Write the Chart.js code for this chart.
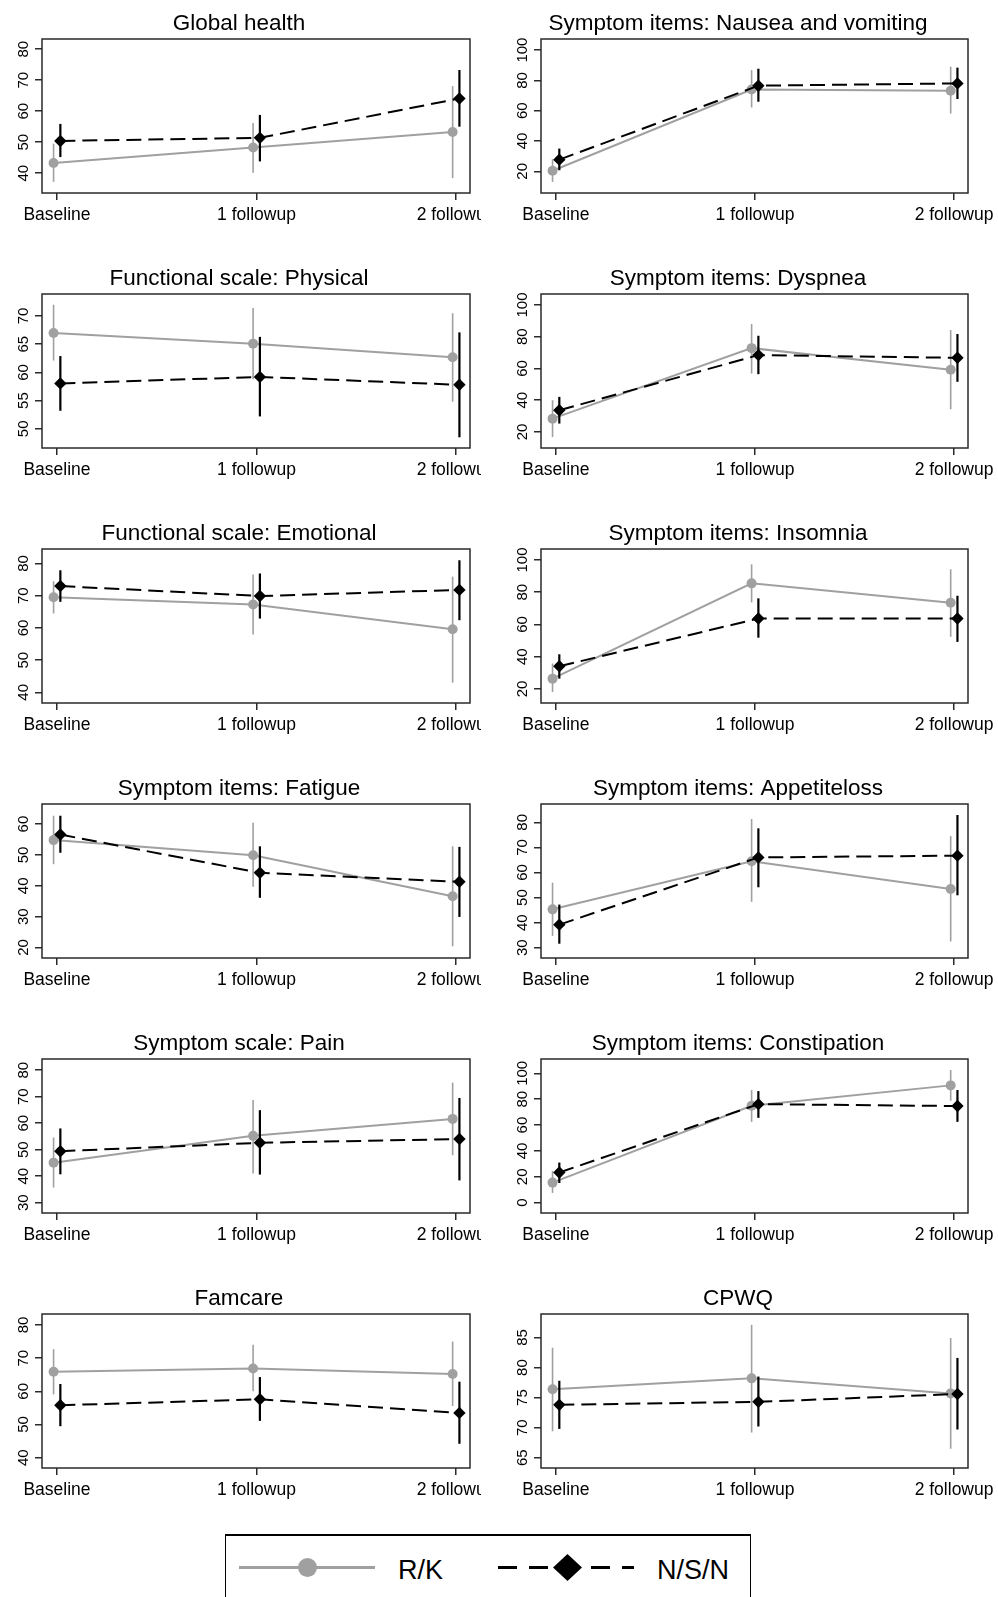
<!DOCTYPE html>
<html>
<head>
<meta charset="utf-8">
<script src="https://cdn.jsdelivr.net/npm/chart.js@4/dist/chart.umd.min.js"></script>
<style>
  html, body { margin:0; padding:0; background:#fff; }
  #wrap { position:relative; width:998px; height:1597px; overflow:hidden; background:#fff; }
  #wrap canvas { position:absolute; }
  #legend { position:absolute; left:225px; top:1534px; }
</style>
</head>
<body>
<div id="wrap">
<svg id="legend" width="526" height="63" xmlns="http://www.w3.org/2000/svg">
  <rect x="0" y="1" width="526" height="90" fill="none" stroke="#000" stroke-width="2"/>
  <line x1="14" y1="33.5" x2="150" y2="33.5" stroke="#a0a0a0" stroke-width="3"/>
  <circle cx="82.5" cy="33.5" r="9.5" fill="#a0a0a0"/>
  <text x="173" y="45" font-family="Liberation Sans, Arial, sans-serif" font-size="27" fill="#000">R/K</text>
  <line x1="273" y1="33.5" x2="409" y2="33.5" stroke="#000" stroke-width="3" stroke-dasharray="19 12"/>
  <polygon points="342.5,20 357,33.5 342.5,47 328,33.5" fill="#000"/>
  <text x="432" y="45" font-family="Liberation Sans, Arial, sans-serif" font-size="27" fill="#000">N/S/N</text>
</svg>
</div>
<script>
// ---------------- DATA ----------------
const categories = ['Baseline', '1 followup', '2 followup'];
const titles = [
  'Global health', 'Symptom items: Nausea and vomiting',
  'Functional scale: Physical', 'Symptom items: Dyspnea',
  'Functional scale: Emotional', 'Symptom items: Insomnia',
  'Symptom items: Fatigue', 'Symptom items: Appetiteloss',
  'Symptom scale: Pain', 'Symptom items: Constipation',
  'Famcare', 'CPWQ'
];
const seriesNames = ['R/K', 'N/S/N'];
const rkMean = [
  [43.3, 48.3, 53.3], [20.4, 74.0, 73.1],
  [67.0, 65.1, 62.7], [28.4, 72.8, 59.2],
  [69.5, 67.3, 59.6], [26.4, 85.5, 73.5],
  [54.8, 49.9, 36.6], [45.3, 64.5, 53.4],
  [45.1, 55.2, 61.6], [15.5, 74.9, 90.7],
  [65.9, 66.9, 65.2], [76.4, 78.2, 75.7]
];
const rkLow = [
  [37.2, 40.1, 38.4], [13.0, 62.1, 58.1],
  [62.1, 58.8, 54.8], [16.8, 56.8, 34.3],
  [64.5, 58.0, 43.0], [18.1, 73.7, 52.3],
  [47.0, 39.7, 20.4], [34.7, 48.3, 32.5],
  [35.7, 41.0, 47.9], [7.5, 62.5, 78.8],
  [59.1, 60.0, 55.6], [69.4, 69.2, 66.5]
];
const rkHigh = [
  [49.5, 56.2, 68.1], [28.0, 86.8, 89.0],
  [72.0, 71.4, 70.5], [40.0, 88.0, 84.2],
  [74.5, 76.6, 75.9], [35.8, 97.3, 94.2],
  [62.7, 60.4, 52.8], [55.9, 81.3, 74.5],
  [54.6, 68.7, 75.3], [24.5, 87.1, 102.6],
  [72.7, 74.0, 75.0], [83.3, 87.1, 84.9]
];
const nsnMean = [
  [50.4, 51.4, 64.1], [27.7, 76.5, 78.0],
  [58.05, 59.2, 57.8], [33.7, 68.4, 66.7],
  [73.0, 69.9, 71.8], [34.1, 63.7, 63.7],
  [56.6, 44.2, 41.3], [39.2, 66.0, 66.7],
  [49.4, 52.6, 54.0], [23.3, 76.2, 74.7],
  [55.8, 57.6, 53.5], [73.8, 74.3, 75.6]
];
const nsnLow = [
  [45.2, 43.8, 55.0], [20.7, 65.9, 67.7],
  [53.2, 52.2, 48.5], [25.3, 56.4, 51.6],
  [68.1, 62.9, 62.4], [26.4, 51.8, 49.2],
  [50.7, 36.1, 29.9], [31.6, 54.1, 50.9],
  [40.7, 40.6, 38.4], [15.2, 65.6, 62.5],
  [49.5, 51.1, 44.2], [69.8, 70.2, 69.7]
];
const nsnHigh = [
  [55.9, 58.8, 73.3], [35.0, 87.7, 88.4],
  [62.9, 66.3, 67.1], [42.1, 80.6, 81.7],
  [77.9, 76.9, 81.0], [41.5, 76.2, 77.8],
  [62.7, 52.8, 52.6], [47.2, 77.6, 82.9],
  [58.0, 64.9, 69.5], [31.0, 86.3, 87.1],
  [62.2, 64.3, 62.9], [77.8, 78.5, 81.6]
];
const yMin = [33.6, 5.7, 46.6, 9.9, 36.7, 11.3, 16.6, 25.9, 26.1, -8.0, 36.9, 63.3];
const yMax = [83.3, 107.3, 73.9, 106.9, 84.5, 106.8, 66.5, 87.3, 84.2, 111.1, 83.3, 88.9];
const yTicks = [
  [40, 50, 60, 70, 80], [20, 40, 60, 80, 100],
  [50, 55, 60, 65, 70], [20, 40, 60, 80, 100],
  [40, 50, 60, 70, 80], [20, 40, 60, 80, 100],
  [20, 30, 40, 50, 60], [30, 40, 50, 60, 70, 80],
  [30, 40, 50, 60, 70, 80], [0, 20, 40, 60, 80, 100],
  [40, 50, 60, 70, 80], [65, 70, 75, 80, 85]
];

// ---------------- STYLE ----------------
const FONT = "'Liberation Sans', Arial, Helvetica, sans-serif";
const GREY = '#a0a0a0';
const AXIS = '#2a2a2a';
const DODGE = 0.017;
Chart.defaults.font.family = FONT;

const panelPlugin = {
  id: 'panel',
  beforeDatasetsDraw(chart) {
    const a = chart.chartArea, ctx = chart.ctx;
    ctx.save();
    ctx.strokeStyle = AXIS;
    ctx.lineWidth = 1.5;
    ctx.strokeRect(a.left, a.top, a.right - a.left, a.bottom - a.top);
    ctx.restore();
  },
  beforeDatasetDraw(chart, args) {
    const ds = chart.data.datasets[args.index];
    const ys = chart.scales.y, ctx = chart.ctx, a = chart.chartArea;
    ctx.save();
    ctx.beginPath();
    ctx.rect(a.left, a.top, a.right - a.left, a.bottom - a.top);
    ctx.clip();
    ctx.strokeStyle = ds.borderColor;
    ctx.lineWidth = ds.errWidth;
    ctx.setLineDash([]);
    args.meta.data.forEach((pt, j) => {
      ctx.beginPath();
      ctx.moveTo(pt.x, ys.getPixelForValue(ds.errLo[j]));
      ctx.lineTo(pt.x, ys.getPixelForValue(ds.errHi[j]));
      ctx.stroke();
    });
    ctx.restore();
  },
  afterDraw(chart) {
    const ctx = chart.ctx, ys = chart.scales.y;
    const idx = chart.options.plugins.panel.index;
    ctx.save();
    ctx.fillStyle = '#000';
    ctx.font = '22.5px ' + FONT;
    ctx.textAlign = 'center';
    ctx.textBaseline = 'middle';
    ctx.fillText(titles[idx], 239, 24);
    ctx.font = '15px ' + FONT;
    ys.ticks.forEach(t => {
      const py = ys.getPixelForValue(t.value);
      ctx.save();
      ctx.translate(27.5, py);
      ctx.rotate(-Math.PI / 2);
      ctx.textAlign = 'center';
      ctx.textBaseline = 'alphabetic';
      ctx.fillText(String(t.value), 0, 0);
      ctx.restore();
    });
    ctx.restore();
  }
};

const wrap = document.getElementById('wrap');
titles.forEach((title, i) => {
  const col = i % 2, row = Math.floor(i / 2);
  const w = col === 0 ? 481 : 499;
  const cv = document.createElement('canvas');
  cv.width = w; cv.height = 255;
  cv.style.left = (col * 499) + 'px';
  cv.style.top = (row * 255) + 'px';
  cv.style.width = w + 'px'; cv.style.height = '255px';
  wrap.appendChild(cv);
  new Chart(cv, {
    type: 'line',
    data: {
      datasets: [
        {
          label: seriesNames[0],
          data: rkMean[i].map((v, j) => ({ x: j - DODGE, y: v })),
          errLo: rkLow[i], errHi: rkHigh[i], errWidth: 1.6,
          borderColor: GREY, backgroundColor: GREY,
          borderWidth: 2, pointStyle: 'circle', pointRadius: 5,
          pointBorderWidth: 0, order: 2, tension: 0
        },
        {
          label: seriesNames[1],
          data: nsnMean[i].map((v, j) => ({ x: j + DODGE, y: v })),
          errLo: nsnLow[i], errHi: nsnHigh[i], errWidth: 2.2,
          borderColor: '#000', backgroundColor: '#000',
          borderWidth: 2, borderDash: [15, 7], pointStyle: 'rectRot', pointRadius: 6.2,
          pointBorderWidth: 0, order: 1, tension: 0
        }
      ]
    },
    options: {
      animation: false, responsive: false, devicePixelRatio: 1,
      layout: { autoPadding: false, padding: { left: 0, right: w - (col === 0 ? 470 : 469), top: 39, bottom: 0 } },
      plugins: { legend: { display: false }, tooltip: { enabled: false }, title: { display: false }, panel: { index: i } },
      scales: {
        x: {
          type: 'linear', min: -0.075, max: 2.07,
          afterBuildTicks: s => { s.ticks = [0, 1, 2].map(v => ({ value: v })); },
          afterFit: s => { s.height = 62; s.paddingLeft = 0; s.paddingRight = 0; },
          ticks: {
            callback: (v, k) => categories[k], autoSkip: false, maxRotation: 0, minRotation: 0,
            color: '#000', font: { size: 17.5, family: FONT }, padding: 5
          },
          grid: { drawOnChartArea: false, drawTicks: true, tickLength: 7, color: AXIS, lineWidth: 1.5 },
          border: { display: false }
        },
        y: {
          type: 'linear', min: yMin[i], max: yMax[i],
          afterBuildTicks: s => { s.ticks = yTicks[i].map(v => ({ value: v })); },
          afterFit: s => { s.width = 42; s.paddingTop = 0; s.paddingBottom = 0; },
          ticks: { display: false },
          grid: { drawOnChartArea: false, drawTicks: true, tickLength: 7, color: AXIS, lineWidth: 1.5 },
          border: { display: false }
        }
      }
    },
    plugins: [panelPlugin]
  });
});
</script>
</body>
</html>
